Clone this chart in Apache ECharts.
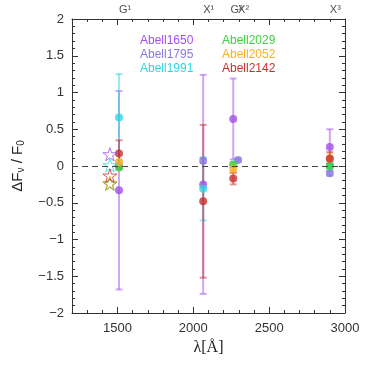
<!DOCTYPE html>
<html>
<head>
<meta charset="utf-8">
<script src="https://cdn.jsdelivr.net/npm/echarts@6/dist/echarts.min.js"></script>
<style>
  html, body { margin: 0; padding: 0; background: #fff; }
  #chart { width: 369px; height: 365px; }
</style>
</head>
<body>
<div id="chart"></div>
<script>
// cluster names + colours
const clusters = ['Abell1650', 'Abell1795', 'Abell1991', 'Abell2029', 'Abell2052', 'Abell2142']
const colors = ['#a050e8', '#8a78e0', '#30d6e0', '#40d040', '#ffb020', '#c83030']

// [wavelength, dF/F0, error]
const a1650 = [[1510, -0.33, 1.35], [2065, -0.25, 1.49], [2263, 0.64, 0.55], [2900, 0.26, 0.24]]
const a1795 = [[1510, 0.0, 0.02], [2065, 0.07, 0.03], [2295, 0.08, 0.02], [2900, -0.10, 0.03]]
const a1991 = [[1510, 0.66, 0.59], [2065, -0.31, 0.43], [2900, 0.0, 0.04]]
const a2029 = [[1510, -0.02, 0.03], [2263, 0.02, 0.03], [2900, 0.0, 0.03]]
const a2052 = [[1510, 0.05, 0.04], [2263, -0.04, 0.05], [2900, 0.10, 0.07]]
const a2142 = [[1510, 0.17, 0.18], [2065, -0.48, 1.04], [2263, -0.17, 0.08], [2900, 0.10, 0.09]]
const points = [a1650, a1795, a1991, a2029, a2052, a2142]

// star markers (at one wavelength), cluster order
const starX = 1450
const starVals = [0.16, -0.24, 0.01, -0.24, -0.23, -0.13]

// line labels along the top
const lineNames = ['G¹', 'X¹', 'G²', 'X²', 'X³']
const linePos = [1510, 2065, 2245, 2295, 2900]

// tick values
const xMajor = [1500, 2000, 2500, 3000]
const xMinor = []
for (let v = 1200; v <= 3000; v += 100) xMinor.push(v)

const font = 'Liberation Sans'
const starPath = 'path://M50,0 L61,35 L98,35 L68,57 L79,91 L50,70 L21,91 L32,57 L2,35 L39,35 Z'

function errSeries (name, color, data) {
  return {
    type: 'custom',
    name,
    data,
    z: 2,
    clip: false,
    renderItem (params, api) {
      const x = api.value(0)
      const y = api.value(1)
      const e = api.value(2)
      const top = api.coord([x, y + e])
      const bot = api.coord([x, y - e])
      const w = 3.5
      const style = { stroke: color, lineWidth: 2, opacity: 0.5 }
      return {
        type: 'group',
        children: [
          { type: 'line', shape: { x1: top[0], y1: top[1], x2: bot[0], y2: bot[1] }, style },
          { type: 'line', shape: { x1: top[0] - w, y1: top[1], x2: top[0] + w, y2: top[1] }, style },
          { type: 'line', shape: { x1: bot[0] - w, y1: bot[1], x2: bot[0] + w, y2: bot[1] }, style }
        ]
      }
    }
  }
}

const series = []
clusters.forEach((name, i) => {
  series.push(errSeries(name, colors[i], points[i]))
})
clusters.forEach((name, i) => {
  series.push({
    type: 'scatter',
    name,
    data: points[i].map(p => [p[0], p[1]]),
    symbol: 'circle',
    symbolSize: 8,
    z: 3,
    itemStyle: { color: colors[i] }
  })
})
clusters.forEach((name, i) => {
  series.push({
    type: 'scatter',
    name,
    data: [[starX, starVals[i]]],
    symbol: starPath,
    symbolKeepAspect: true,
    symbolSize: 14,
    z: 4,
    itemStyle: { color: 'rgba(0,0,0,0)', borderColor: colors[i], borderWidth: 1 }
  })
})

// zero line
series.push({
  type: 'line',
  data: [],
  markLine: {
    silent: true,
    symbol: 'none',
    label: { show: false },
    lineStyle: { color: '#444', width: 1, type: [6, 4] },
    data: [{ yAxis: 0 }]
  }
})

// top labels
series.push({
  type: 'scatter',
  data: lineNames.map((n, i) => [linePos[i], 2, n]),
  symbolSize: 0,
  clip: false,
  silent: true,
  label: {
    show: true,
    position: 'top',
    distance: 4,
    align: 'left',
    formatter: p => p.data[2],
    fontFamily: font,
    fontSize: 11,
    color: '#222'
  }
})

const chart = echarts.init(document.getElementById('chart'))

const xBase = {
  type: 'value',
  min: 1200,
  max: 3000,
  splitLine: { show: false }
}
const yBase = {
  type: 'value',
  min: -2,
  max: 2,
  interval: 0.5,
  splitLine: { show: false },
  axisLine: { show: true, lineStyle: { color: '#333' } },
  axisTick: { show: true, inside: true, length: 6, lineStyle: { color: '#333' } },
  minorTick: { show: true, splitNumber: 5, length: 3, lineStyle: { color: '#333' } }
}

const legendBase = {
  top: 30,
  orient: 'vertical',
  icon: 'none',
  itemWidth: 0,
  itemHeight: 10,
  itemGap: 2,
  selectedMode: false,
  textStyle: { fontFamily: font, fontSize: 12 }
}

chart.setOption({
  animation: false,
  grid: { left: 72, right: 24, top: 19, bottom: 52 },
  legend: [
    {
      ...legendBase,
      left: 130,
      data: clusters.slice(0, 3).map((n, i) => ({ name: n, textStyle: { color: colors[i] } }))
    },
    {
      ...legendBase,
      left: 212,
      data: clusters.slice(3).map((n, i) => ({ name: n, textStyle: { color: colors[i + 3] } }))
    }
  ],
  xAxis: [
    {
      ...xBase,
      position: 'bottom',
      axisLine: { show: true, onZero: false, lineStyle: { color: '#333' } },
      axisTick: { show: true, inside: true, length: 6, customValues: xMajor, lineStyle: { color: '#333' } },
      axisLabel: { customValues: xMajor, margin: 9, fontFamily: font, fontSize: 13, color: '#333', formatter: v => String(v) },
      name: 'λ[Å]',
      nameLocation: 'middle',
      nameGap: 25,
      nameTextStyle: { fontFamily: 'Liberation Serif', fontSize: 16, color: '#222' }
    },
    {
      ...xBase,
      position: 'bottom',
      axisLine: { show: false, onZero: false },
      axisTick: { show: true, inside: true, length: 3, customValues: xMinor, lineStyle: { color: '#333' } },
      axisLabel: { show: false }
    },
    {
      ...xBase,
      position: 'top',
      axisLine: { show: true, onZero: false, lineStyle: { color: '#333' } },
      axisTick: { show: true, inside: true, length: 6, customValues: xMajor, lineStyle: { color: '#333' } },
      axisLabel: { show: false }
    },
    {
      ...xBase,
      position: 'top',
      axisLine: { show: false, onZero: false },
      axisTick: { show: true, inside: true, length: 3, customValues: xMinor, lineStyle: { color: '#333' } },
      axisLabel: { show: false }
    }
  ],
  yAxis: [
    {
      ...yBase,
      position: 'left',
      axisLabel: {
        margin: 8,
        fontFamily: font,
        fontSize: 13,
        color: '#333',
        formatter: v => String(v).replace('-', '\u2212')
      },
      name: '{a|ΔF}{s|ν}{a| / F}{s|0}',
      nameLocation: 'middle',
      nameGap: 46,
      nameTextStyle: {
        rich: {
          a: { fontFamily: font, fontSize: 15, color: '#222' },
          s: { fontFamily: font, fontSize: 10, color: '#222', verticalAlign: 'bottom', padding: [6, 0, 0, 0] }
        }
      }
    },
    {
      ...yBase,
      position: 'right',
      axisLabel: { show: false }
    }
  ],
  series
})
</script>
</body>
</html>
